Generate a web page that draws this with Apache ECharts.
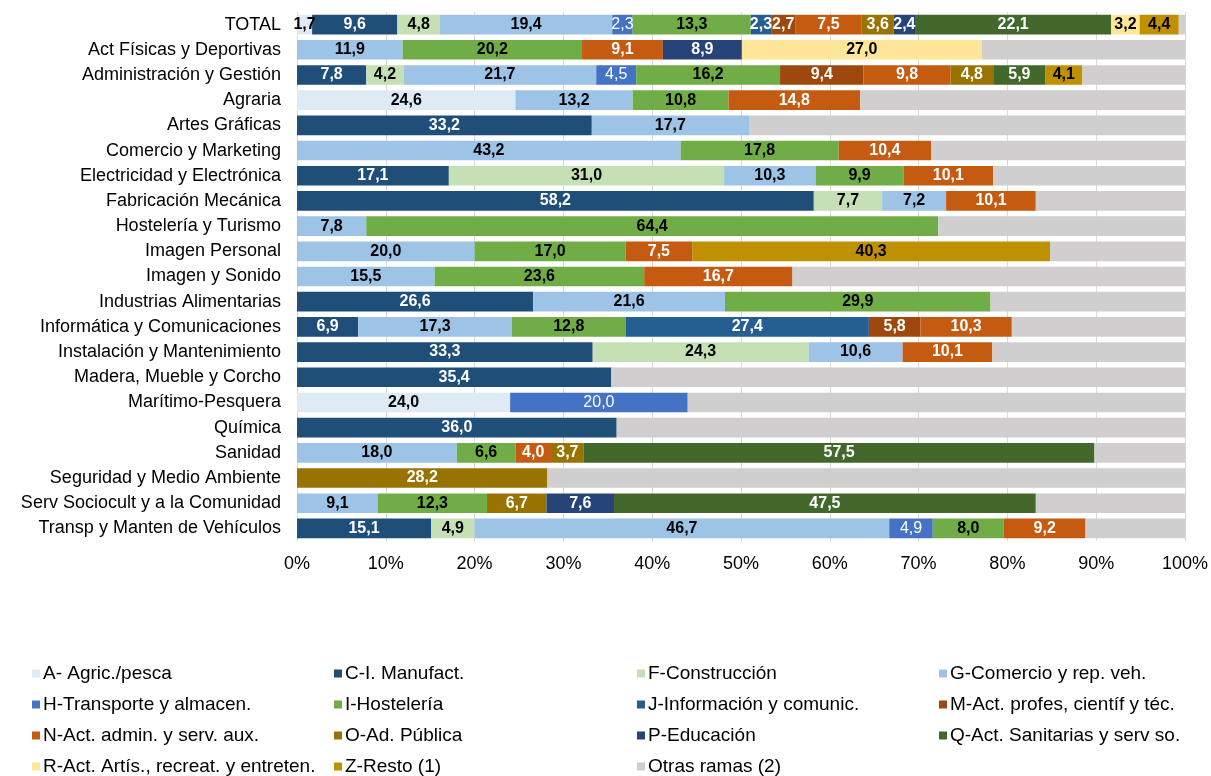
<!DOCTYPE html>
<html>
<head>
<meta charset="utf-8">
<script src="https://cdn.jsdelivr.net/npm/echarts@6/dist/echarts.min.js"></script>
<style>
  html, body { margin: 0; padding: 0; background: #fff; }
  #chart { width: 1211px; height: 776px; }
</style>
</head>
<body>
<div id="chart"></div>
<script>
  const _ = null;
  const categories = [
    'TOTAL', 'Act Físicas y Deportivas', 'Administración y Gestión', 'Agraria', 'Artes Gráficas',
    'Comercio y Marketing', 'Electricidad y Electrónica', 'Fabricación Mecánica', 'Hostelería y Turismo',
    'Imagen Personal', 'Imagen y Sonido', 'Industrias Alimentarias', 'Informática y Comunicaciones',
    'Instalación y Mantenimiento', 'Madera, Mueble y Corcho', 'Marítimo-Pesquera', 'Química', 'Sanidad',
    'Seguridad y Medio Ambiente', 'Serv Sociocult y a la Comunidad', 'Transp y Manten de Vehículos'
  ];

  // one value per category, same order as above (% of row)
  const agric   = [1.7, _, _, 24.6, _, _, _, _, _, _, _, _, _, _, _, 24.0, _, _, _, _, _];
  const manuf   = [9.6, _, 7.8, _, 33.2, _, 17.1, 58.2, _, _, _, 26.6, 6.9, 33.3, 35.4, _, 36.0, _, _, _, 15.1];
  const constr  = [4.8, _, 4.2, _, _, _, 31.0, 7.7, _, _, _, _, _, 24.3, _, _, _, _, _, _, 4.9];
  const comerc  = [19.4, 11.9, 21.7, 13.2, 17.7, 43.2, 10.3, 7.2, 7.8, 20.0, 15.5, 21.6, 17.3, 10.6, _, _, _, 18.0, _, 9.1, 46.7];
  const transp  = [2.3, _, 4.5, _, _, _, _, _, _, _, _, _, _, _, _, 20.0, _, _, _, _, 4.9];
  const hostel  = [13.3, 20.2, 16.2, 10.8, _, 17.8, 9.9, _, 64.4, 17.0, 23.6, 29.9, 12.8, _, _, _, _, 6.6, _, 12.3, 8.0];
  const inform  = [2.3, _, _, _, _, _, _, _, _, _, _, _, 27.4, _, _, _, _, _, _, _, _];
  const profes  = [2.7, _, 9.4, _, _, _, _, _, _, _, _, _, 5.8, _, _, _, _, _, _, _, _];
  const admin   = [7.5, 9.1, 9.8, 14.8, _, 10.4, 10.1, 10.1, _, 7.5, 16.7, _, 10.3, 10.1, _, _, _, 4.0, _, _, 9.2];
  const adPub   = [3.6, _, 4.8, _, _, _, _, _, _, _, _, _, _, _, _, _, _, 3.7, 28.2, 6.7, _];
  const educ    = [2.4, 8.9, _, _, _, _, _, _, _, _, _, _, _, _, _, _, _, _, _, 7.6, _];
  const sanit   = [22.1, _, 5.9, _, _, _, _, _, _, _, _, _, _, _, _, _, _, 57.5, _, 47.5, _];
  const artis   = [3.2, 27.0, _, _, _, _, _, _, _, _, _, _, _, _, _, _, _, _, _, _, _];
  const resto   = [4.4, _, 4.1, _, _, _, _, _, _, 40.3, _, _, _, _, _, _, _, _, _, _, _];
  const otras   = [0.7, 22.9, 11.6, 36.6, 49.1, 28.6, 21.6, 16.8, 27.8, 15.2, 44.2, 21.9, 19.5, 21.7, 64.6, 56.0, 64.0, 10.2, 71.8, 16.8, 11.2];

  const xTicks = { min: 0, max: 100, interval: 10 };

  const FONT = 'Liberation Sans, Arial, sans-serif';

  // name, data, fill, label colour, label weight
  const seriesDefs = [
    ['A- Agric./pesca', agric, '#DEEBF7', '#000', 'bold'],
    ['C-I. Manufact.', manuf, '#1F4E79', '#fff', 'bold'],
    ['F-Construcción', constr, '#C5E0B4', '#000', 'bold'],
    ['G-Comercio y rep. veh.', comerc, '#9DC3E6', '#000', 'bold'],
    ['H-Transporte y almacen.', transp, '#4472C4', '#fff', 'normal'],
    ['I-Hostelería', hostel, '#70AD47', '#000', 'bold'],
    ['J-Información y comunic.', inform, '#255E91', '#fff', 'bold'],
    ['M-Act. profes, científ y téc.', profes, '#9E480E', '#fff', 'bold'],
    ['N-Act. admin. y serv. aux.', admin, '#C55A11', '#fff', 'bold'],
    ['O-Ad. Pública', adPub, '#997300', '#fff', 'bold'],
    ['P-Educación', educ, '#264478', '#fff', 'bold'],
    ['Q-Act. Sanitarias y serv so.', sanit, '#43682B', '#fff', 'bold'],
    ['R-Act. Artís., recreat. y entreten.', artis, '#FFE699', '#000', 'bold'],
    ['Z-Resto (1)', resto, '#BF9000', '#000', 'bold'],
    ['Otras ramas (2)', otras, '#D0CECE', '#000', 'bold']
  ];

  const series = seriesDefs.map(function (d, i) {
    const isOther = i === seriesDefs.length - 1;
    return {
      name: d[0],
      type: 'bar',
      stack: 'total',
      barCategoryGap: '22%',
      data: d[1],
      itemStyle: { color: d[2] },
      label: {
        show: !isOther,
        position: 'inside',
        color: d[3],
        fontWeight: d[4],
        fontSize: 16,
        fontFamily: FONT,
        formatter: function (p) {
          return p.value == null ? '' : p.value.toFixed(1).replace('.', ',');
        }
      }
    };
  });

  // legend laid out as 4 columns
  const legendCols = [
    [0, 4, 8, 12],
    [1, 5, 9, 13],
    [2, 6, 10, 14],
    [3, 7, 11]
  ];
  const legendLeft = [32, 334, 637, 939];
  const legends = legendCols.map(function (col, c) {
    return {
      orient: 'vertical',
      left: legendLeft[c],
      top: 664,
      height: 160,
      padding: 0,
      itemWidth: 8,
      itemHeight: 8,
      itemGap: 12,
      icon: 'rect',
      selectedMode: false,
      textStyle: { fontSize: 19, fontFamily: FONT, color: '#000', padding: [0, 0, 0, -2] },
      data: col.map(function (k) { return seriesDefs[k][0]; })
    };
  });

  const chart = echarts.init(document.getElementById('chart'));
  chart.setOption({
    animation: false,
    backgroundColor: '#fff',
    legend: legends,
    grid: { left: 297, right: 25, top: 12, height: 529 },
    xAxis: {
      type: 'value',
      min: xTicks.min,
      max: xTicks.max,
      interval: xTicks.interval,
      axisLine: { show: false },
      axisTick: { show: false },
      axisLabel: { formatter: '{value}%', fontSize: 18, fontFamily: FONT, color: '#000', margin: 14 },
      splitLine: { lineStyle: { color: '#D9D9D9', width: 1 } }
    },
    yAxis: {
      type: 'category',
      inverse: true,
      data: categories,
      axisLine: { lineStyle: { color: '#D9D9D9' } },
      axisTick: { show: false },
      axisLabel: { fontSize: 18, fontFamily: FONT, color: '#000', margin: 16 }
    },
    series: series
  });
</script>
</body>
</html>
